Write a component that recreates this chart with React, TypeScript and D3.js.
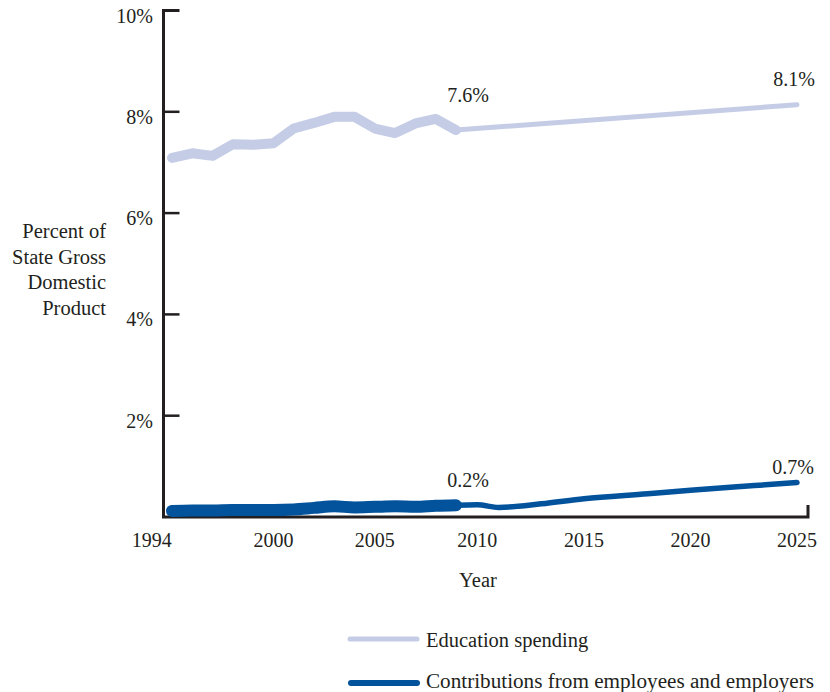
import React from "react";
import * as d3 from "d3";

const histYears = [1995, 1996, 1997, 1998, 1999, 2000, 2001, 2002, 2003, 2004, 2005, 2006, 2007, 2008, 2009];
const eduHist = [7.09, 7.18, 7.13, 7.36, 7.35, 7.38, 7.67, 7.78, 7.9, 7.9, 7.67, 7.58, 7.77, 7.86, 7.64];
const contribHist = [0.12, 0.13, 0.13, 0.14, 0.14, 0.14, 0.15, 0.18, 0.21, 0.19, 0.2, 0.21, 0.2, 0.22, 0.23];

const eduProjYears = [2009, 2025];
const eduProj = [7.64, 8.14];
const contribProjYears = [2009, 2010, 2011, 2013, 2015, 2018, 2020, 2023, 2025];
const contribProj = [0.23, 0.24, 0.19, 0.26, 0.36, 0.46, 0.53, 0.62, 0.68];

const xTickYears = [1994, 2000, 2005, 2010, 2015, 2020, 2025];
const yTicks = [2, 4, 6, 8, 10];
const yTitle = ["Percent of", "State Gross", "Domestic", "Product"];
const legendLabels = ["Education spending", "Contributions from employees and employers"];
const LIGHT = "#c5cde6";
const DARK = "#03529c";
const INK = "#231f20";
const FONT = "'Liberation Serif', 'Times New Roman', serif";
const NUM = 20;
const TXT = 20.5;

export default function App() {
  const x = d3.scaleLinear().domain([1995, 2009, 2025]).range([172, 456, 797]);
  const y = d3.scaleLinear().domain([0, 10]).range([517, 10.5]);
  const line = d3
    .line<[number, number]>()
    .x((d) => x(d[0]))
    .y((d) => y(d[1]));
  const smooth = d3
    .line<[number, number]>()
    .x((d) => x(d[0]))
    .y((d) => y(d[1]))
    .curve(d3.curveMonotoneX);
  const z = (a: number[], b: number[]) => a.map((v, i) => [v, b[i]] as [number, number]);

  const axisLeft = 163.5;
  const axisRight = 808;
  const base = y(0);

  return (
    <svg width={830} height={692} style={{ position: "absolute", left: 0, top: 0 }} fontFamily={FONT}>
      <path
        d={`M${axisLeft + 16},${y(10)} H${axisLeft} V${base} H${axisRight} V${base - 12}`}
        fill="none"
        stroke={INK}
        strokeWidth={3}
      />
      {yTicks.map((t) => (
        <g key={t}>
          {t < 10 && <line x1={axisLeft} x2={axisLeft + 16} y1={y(t)} y2={y(t)} stroke={INK} strokeWidth={2.5} />}
          <text x={153} y={y(t) + 12} textAnchor="end" fontSize={NUM} fill={INK}>
            {t}%
          </text>
        </g>
      ))}
      {xTickYears.map((t) => (
        <text key={t} x={x(t)} y={base + 30} textAnchor="middle" fontSize={NUM} fill={INK}>
          {t}
        </text>
      ))}
      <text x={478} y={587} textAnchor="middle" fontSize={TXT} fill={INK}>
        Year
      </text>
      {yTitle.map((s, i) => (
        <text key={s} x={106} y={238 + i * 25.5} textAnchor="end" fontSize={TXT} fill={INK}>
          {s}
        </text>
      ))}

      <path d={line(z(eduProjYears, eduProj)) || ""} fill="none" stroke={LIGHT} strokeWidth={5} strokeLinecap="round" strokeLinejoin="round" />
      <path d={line(z(histYears, eduHist)) || ""} fill="none" stroke={LIGHT} strokeWidth={10} strokeLinecap="round" strokeLinejoin="round" />
      <path
        d={smooth(z(contribProjYears, contribProj)) || ""}
        fill="none"
        stroke={DARK}
        strokeWidth={5.5}
        strokeLinecap="round"
        strokeLinejoin="round"
      />
      <path
        d={smooth(z(histYears, contribHist)) || ""}
        fill="none"
        stroke={DARK}
        strokeWidth={12}
        strokeLinecap="round"
        strokeLinejoin="round"
      />

      <text x={x(2009) + 12} y={y(eduHist[eduHist.length - 1]) - 28} textAnchor="middle" fontSize={NUM} fill={INK}>
        {eduHist[eduHist.length - 1].toFixed(1)}%
      </text>
      <text x={x(2025) - 3} y={y(eduProj[eduProj.length - 1]) - 19} textAnchor="middle" fontSize={NUM} fill={INK}>
        8.1%
      </text>
      <text x={x(2009) + 12} y={y(contribHist[contribHist.length - 1]) - 18} textAnchor="middle" fontSize={NUM} fill={INK}>
        0.2%
      </text>
      <text x={x(2025) - 4} y={y(contribProj[contribProj.length - 1]) - 9} textAnchor="middle" fontSize={NUM} fill={INK}>
        0.7%
      </text>

      <line x1={350} x2={417} y1={639} y2={639} stroke={LIGHT} strokeWidth={5} strokeLinecap="round" />
      <text x={426} y={647} fontSize={TXT} fill={INK}>
        {legendLabels[0]}
      </text>
      <line x1={351} x2={417} y1={683} y2={683} stroke={DARK} strokeWidth={6} strokeLinecap="round" />
      <text x={426} y={688} fontSize={TXT} fill={INK} textLength={388} lengthAdjust="spacingAndGlyphs">
        {legendLabels[1]}
      </text>
    </svg>
  );
}
